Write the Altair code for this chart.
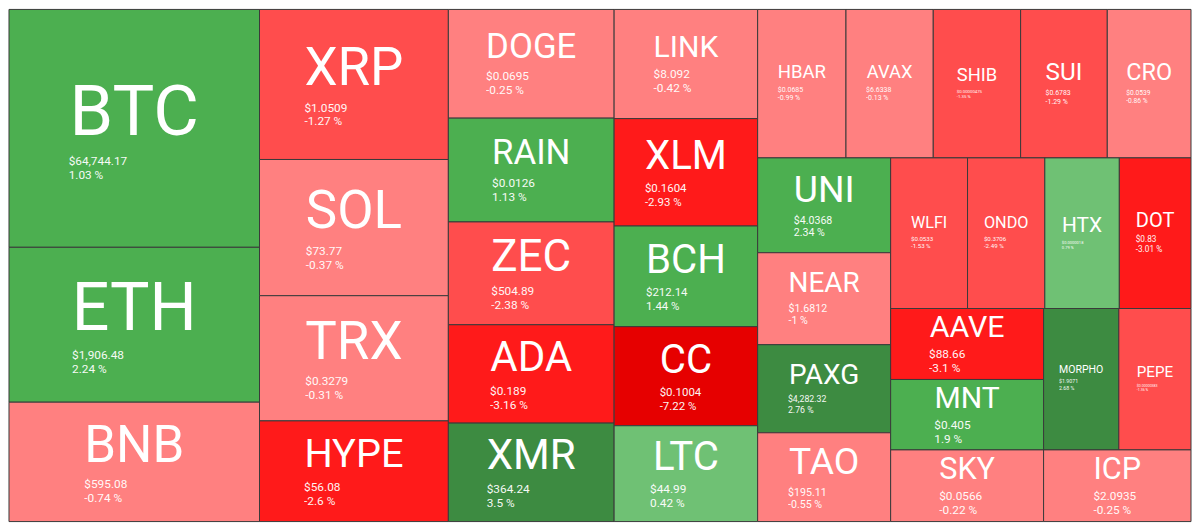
import altair as alt
import pandas as pd

# ---- data ----
symbols = ["BTC", "ETH", "BNB", "XRP", "SOL", "TRX", "HYPE", "DOGE", "RAIN", "ZEC",
           "ADA", "XMR", "LINK", "XLM", "BCH", "CC", "LTC", "HBAR", "AVAX", "SHIB",
           "SUI", "CRO", "UNI", "NEAR", "PAXG", "TAO", "WLFI", "ONDO", "HTX", "DOT",
           "AAVE", "MNT", "SKY", "MORPHO", "PEPE", "ICP"]
weights = [62482, 40688, 31355, 29714, 26972, 24787, 19937, 18900, 18042, 17873,
           17099, 17116, 16435, 16158, 15153, 14905, 14424, 13751, 13582, 13598,
           13490, 13031, 13230, 12825, 12285, 12380, 12145, 12207, 11771, 11319,
           11383, 11290, 11492, 11154, 10702, 11078]
prices = ["$64,744.17", "$1,906.48", "$595.08", "$1.0509", "$73.77", "$0.3279", "$56.08",
          "$0.0695", "$0.0126", "$504.89", "$0.189", "$364.24", "$8.092", "$0.1604",
          "$212.14", "$0.1004", "$44.99", "$0.0685", "$6.6338", "$0.00000475", "$0.6783",
          "$0.0539", "$4.0368", "$1.6812", "$4,282.32", "$195.11", "$0.0533", "$0.3706",
          "$0.0000018", "$0.83", "$88.66", "$0.405", "$0.0566", "$1.9071", "$0.00000383",
          "$2.0935"]
changes = [1.03, 2.24, -0.74, -1.27, -0.37, -0.31, -2.6, -0.25, 1.13, -2.38,
           -3.16, 3.5, -0.42, -2.93, 1.44, -7.22, 0.42, -0.99, -0.13, -1.35,
           -1.29, -0.86, 2.34, -1.0, 2.76, -0.55, -1.53, -2.49, 0.79, -3.01,
           -3.1, 1.9, -0.22, 2.68, -1.36, -0.25]

color_steps = [-5, -2.5, -1, 0, 1, 2.5]
color_range = ["#e60000", "#ff1a1a", "#ff4d4d", "#ff8080",
               "#6fc174", "#4caf50", "#3d8b41"]

W, H = 1200, 529          # treemap extent (data units)
PW, PH = 1184, 513        # plot size in pixels

# ---- d3-style squarified treemap ----
PHI = (1 + 5 ** 0.5) / 2


def squarify(values, x0, y0, x1, y1, ratio=PHI):
    rects = [None] * len(values)
    n = len(values)
    i0 = i1 = 0
    value = float(sum(values))
    while i0 < n:
        dx, dy = x1 - x0, y1 - y0
        sum_v = values[i1]
        i1 += 1
        min_v = max_v = sum_v
        alpha = max(dy / dx, dx / dy) / (value * ratio)
        beta = sum_v * sum_v * alpha
        min_ratio = max(max_v / beta, beta / min_v)
        while i1 < n:
            nv = values[i1]
            s = sum_v + nv
            mn, mx = min(min_v, nv), max(max_v, nv)
            beta = s * s * alpha
            new_ratio = max(mx / beta, beta / mn)
            if new_ratio > min_ratio:
                break
            sum_v, min_v, max_v, min_ratio = s, mn, mx, new_ratio
            i1 += 1
        if dx < dy:
            h = dy * sum_v / value
            xx = x0
            for i in range(i0, i1):
                w = dx * values[i] / sum_v
                rects[i] = (xx, y0, xx + w, y0 + h)
                xx += w
            y0 += h
        else:
            w = dx * sum_v / value
            yy = y0
            for i in range(i0, i1):
                h = dy * values[i] / sum_v
                rects[i] = (x0, yy, x0 + w, yy + h)
                yy += h
            x0 += w
        value -= sum_v
        i0 = i1
    return rects


ADV = {"A": .652, "B": .622, "C": .652, "D": .657, "E": .568, "F": .553, "G": .683,
       "H": .713, "I": .272, "J": .552, "K": .627, "L": .538, "M": .873, "N": .713,
       "O": .688, "P": .631, "Q": .688, "R": .616, "S": .593, "T": .597, "U": .648,
       "V": .636, "W": .887, "X": .627, "Y": .601, "Z": .599, "$": .562, ".": .263,
       ",": .196, " ": .248, "%": .733, "-": .276}


def em_width(s):
    return sum(ADV.get(c, .562) for c in s)


rects = squarify(weights, 0, 0, W, H)
sx = PW / W
rows = []
for sym, r, p, c in zip(symbols, rects, prices, changes):
    x0, y0, x1, y1 = r
    w, h = x1 - x0, y1 - y0
    fs = min(0.84 * w / max(len(sym), 3), 0.42 * h)
    symw = fs * em_width(sym)
    ps = min(12.0, 0.5 * fs, 0.29 * w / em_width(p))
    gap = 3.0
    block = 1.172 * fs + gap + 2.4 * ps
    cx, cy = (x0 + x1) / 2, (y0 + y1) / 2
    top = cy - block / 2 - 2
    ch = f"{c:g} %"
    rows.append(dict(symbol=sym, price=p, change=c, chg=ch,
                     x0=x0, x1=x1, y0=y0, y1=y1, cx=cx,
                     tx=cx - symw / 2,
                     sy=top + 0.93 * fs,
                     py=top + 1.172 * fs + gap + 0.95 * ps,
                     cyy=top + 1.172 * fs + gap + 2.15 * ps,
                     fs=fs * sx, ps=ps * sx))
df = pd.DataFrame(rows)

xs = alt.Scale(domain=[0, W], nice=False, zero=False)
ys = alt.Scale(domain=[0, H], nice=False, zero=False, reverse=True)

base = alt.Chart(df)

cells = base.mark_rect(stroke="#3a3a3a", strokeWidth=1).encode(
    x=alt.X("x0:Q", scale=xs, axis=None),
    x2="x1:Q",
    y=alt.Y("y0:Q", scale=ys, axis=None),
    y2="y1:Q",
    color=alt.Color("change:Q", scale=alt.Scale(type="threshold", domain=color_steps,
                                                range=color_range), legend=None),
    tooltip=["symbol:N", "price:N", "chg:N"],
)

sym_text = base.mark_text(color="white", font="Roboto", align="center",
                          baseline="alphabetic").encode(
    x=alt.X("cx:Q", scale=xs, axis=None),
    y=alt.Y("sy:Q", scale=ys, axis=None),
    text="symbol:N",
    size=alt.Size("fs:Q", scale=None, legend=None),
)

price_text = base.mark_text(color="white", font="Roboto", align="left",
                            baseline="alphabetic", opacity=0.95).encode(
    x=alt.X("tx:Q", scale=xs, axis=None),
    y=alt.Y("py:Q", scale=ys, axis=None),
    text="price:N",
    size=alt.Size("ps:Q", scale=None, legend=None),
)

chg_text = base.mark_text(color="white", font="Roboto", align="left",
                          baseline="alphabetic", opacity=0.95).encode(
    x=alt.X("tx:Q", scale=xs, axis=None),
    y=alt.Y("cyy:Q", scale=ys, axis=None),
    text="chg:N",
    size=alt.Size("ps:Q", scale=None, legend=None),
)

chart = alt.layer(cells, sym_text, price_text, chg_text).properties(
    width=PW, height=PH, padding=0
).configure_view(strokeWidth=0)

chart.save("out.html", embed_options={"renderer": "svg", "actions": False})
